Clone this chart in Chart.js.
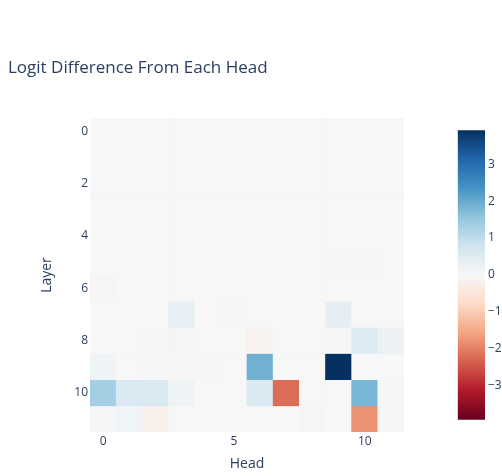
<!DOCTYPE html>
<html>
<head>
<meta charset="utf-8">
<script src="https://cdn.jsdelivr.net/npm/chart.js@4.4.1/dist/chart.umd.min.js"></script>
<style>
  html, body { margin: 0; padding: 0; background: #fff; overflow: hidden; width: 502px; height: 476px; }
  #heatmap { position: absolute; left: 0; top: 0; }
  #colorbar { position: absolute; left: 450px; top: 120px; }
</style>
</head>
<body>
<canvas id="heatmap" width="502" height="476"></canvas>
<canvas id="colorbar" width="100" height="310"></canvas>
<script>
// Attention heads (x) and layers (y)
const heads = [0, 1, 2, 3, 4, 5, 6, 7, 8, 9, 10, 11];
const layers = [0, 1, 2, 3, 4, 5, 6, 7, 8, 9, 10, 11];

// Logit difference contributed by each head, one row per layer
const logitDiff = [
  [ 0.00,  0.00,  0.00,  0.00,  0.00,  0.00,  0.00,  0.00,  0.00,  0.00,  0.00,  0.00],
  [ 0.00,  0.00,  0.00,  0.00,  0.00,  0.00,  0.00,  0.00,  0.00,  0.00,  0.00,  0.00],
  [ 0.00,  0.00,  0.00,  0.00,  0.00,  0.00,  0.00,  0.00,  0.00,  0.00,  0.00,  0.00],
  [ 0.00,  0.00,  0.00,  0.00,  0.00,  0.00,  0.00,  0.00,  0.00,  0.00,  0.00,  0.00],
  [ 0.00,  0.00,  0.00,  0.00,  0.00,  0.00,  0.00,  0.00,  0.00,  0.00,  0.00,  0.00],
  [ 0.00,  0.00,  0.00,  0.00,  0.00,  0.00,  0.00,  0.00,  0.00, -0.02, -0.02,  0.00],
  [-0.06,  0.00,  0.00,  0.00,  0.00,  0.00,  0.00,  0.00,  0.00, -0.01, -0.01,  0.00],
  [ 0.00,  0.00,  0.00,  0.35,  0.00, -0.04, -0.01,  0.00, -0.01,  0.38,  0.00, -0.01],
  [ 0.00,  0.00, -0.02,  0.07,  0.00,  0.00, -0.12,  0.00,  0.02, -0.02,  0.55,  0.25],
  [ 0.18,  0.00,  0.07, -0.02, -0.02,  0.00,  1.90,  0.02,  0.00,  3.92,  0.00,  0.02],
  [ 1.35,  0.60,  0.60,  0.18,  0.00,  0.01,  0.60, -2.22,  0.01,  0.00,  1.82,  0.05],
  [ 0.04,  0.15, -0.20, -0.01,  0.00,  0.00,  0.00,  0.00,  0.08, -0.01, -1.78,  0.05]
];

// Tick labels shown on each axis
const headTicks = [0, 5, 10];
const layerTicks = [0, 2, 4, 6, 8, 10];
const colorbarTicks = [-3, -2, -1, 0, 1, 2, 3];

// Diverging red-blue colour scale, low to high
const rdbu = [
  [103, 0, 31], [178, 24, 43], [214, 96, 77], [244, 165, 130], [253, 219, 199],
  [247, 247, 247], [209, 229, 240], [146, 197, 222], [67, 147, 195], [33, 102, 172], [5, 48, 97]
];

const zMax = Math.max(...logitDiff.flat().map(Math.abs));
const textColor = '#2a3f5f';
const fontFamily = "'Open Sans', 'DejaVu Sans', sans-serif";
Chart.defaults.font.family = fontFamily;
Chart.defaults.color = textColor;

function colorFor(v) {
  const t = Math.min(1, Math.max(0, (v + zMax) / (2 * zMax))) * (rdbu.length - 1);
  const i = Math.min(rdbu.length - 2, Math.floor(t));
  const f = t - i;
  const a = rdbu[i], b = rdbu[i + 1];
  const c = a.map((x, k) => Math.round(x + (b[k] - x) * f));
  return `rgb(${c[0]},${c[1]},${c[2]})`;
}

function minusLabel(v) {
  return v < 0 ? '\u2212' + Math.abs(v) : String(v);
}

// One floating-bar dataset per layer; each bar spans its layer row
const cellDatasets = layers.map((layer, r) => ({
  label: 'Layer ' + layer,
  data: heads.map(() => [layer - 0.5, layer + 0.5]),
  backgroundColor: heads.map((h, c) => colorFor(logitDiff[r][c])),
  borderWidth: 0,
  barPercentage: 1,
  categoryPercentage: 1,
  grouped: false
}));

new Chart(document.getElementById('heatmap'), {
  type: 'bar',
  data: { labels: heads.map(String), datasets: cellDatasets },
  options: {
    responsive: false,
    animation: false,
    layout: { padding: { left: 8, right: 98, top: 0, bottom: 0 } },
    plugins: {
      legend: { display: false },
      tooltip: { enabled: false },
      title: {
        display: true,
        text: 'Logit Difference From Each Head',
        align: 'start',
        color: textColor,
        font: { size: 17, weight: 'normal', family: fontFamily },
        padding: { top: 58, bottom: 39.6 }
      }
    },
    scales: {
      x: {
        type: 'category',
        offset: true,
        grid: { display: false, drawTicks: false },
        border: { display: false },
        ticks: {
          autoSkip: false,
          maxRotation: 0,
          padding: 2,
          color: textColor,
          font: { size: 12 },
          callback: (val, idx) => headTicks.includes(heads[idx]) ? String(heads[idx]) : null
        },
        title: {
          display: true, text: 'Head', color: textColor,
          font: { size: 14 }, padding: { top: 0, bottom: 3.6 }
        },
        afterFit: s => { s.height = 44; }
      },
      y: {
        type: 'linear',
        reverse: true,
        min: -0.5,
        max: 11.5,
        grid: { display: false, drawTicks: false },
        border: { display: false },
        afterBuildTicks: s => { s.ticks = layerTicks.map(v => ({ value: v })); },
        ticks: { padding: 2, color: textColor, font: { size: 12 } },
        title: {
          display: true, text: 'Layer', color: textColor,
          font: { size: 14 }, padding: { top: 30.6, bottom: 0 }
        },
        afterFit: s => { s.width = 82; }
      }
    }
  }
});

// Colour bar: one floating bar spanning the full value range, filled with the scale
new Chart(document.getElementById('colorbar'), {
  type: 'bar',
  data: {
    labels: ['z'],
    datasets: [{
      data: [[-zMax, zMax]],
      borderWidth: 0,
      barPercentage: 1,
      categoryPercentage: 1,
      backgroundColor: ctx => {
        const area = ctx.chart.chartArea;
        if (!area) return null;
        const g = ctx.chart.ctx.createLinearGradient(0, area.bottom, 0, area.top);
        rdbu.forEach((c, i) => g.addColorStop(i / (rdbu.length - 1), `rgb(${c[0]},${c[1]},${c[2]})`));
        return g;
      }
    }]
  },
  options: {
    responsive: false,
    animation: false,
    layout: { padding: { left: 7.7, right: 0, top: 7.7, bottom: 7 } },
    plugins: { legend: { display: false }, tooltip: { enabled: false } },
    scales: {
      x: { display: false },
      y: {
        position: 'right',
        min: -zMax,
        max: zMax,
        grid: { display: false, drawTicks: false },
        border: { display: false },
        afterBuildTicks: s => { s.ticks = colorbarTicks.map(v => ({ value: v })); },
        ticks: { padding: 3, color: textColor, font: { size: 12 }, callback: v => minusLabel(v) },
        afterFit: s => { s.width = 65; }
      }
    }
  }
});
</script>
</body>
</html>
